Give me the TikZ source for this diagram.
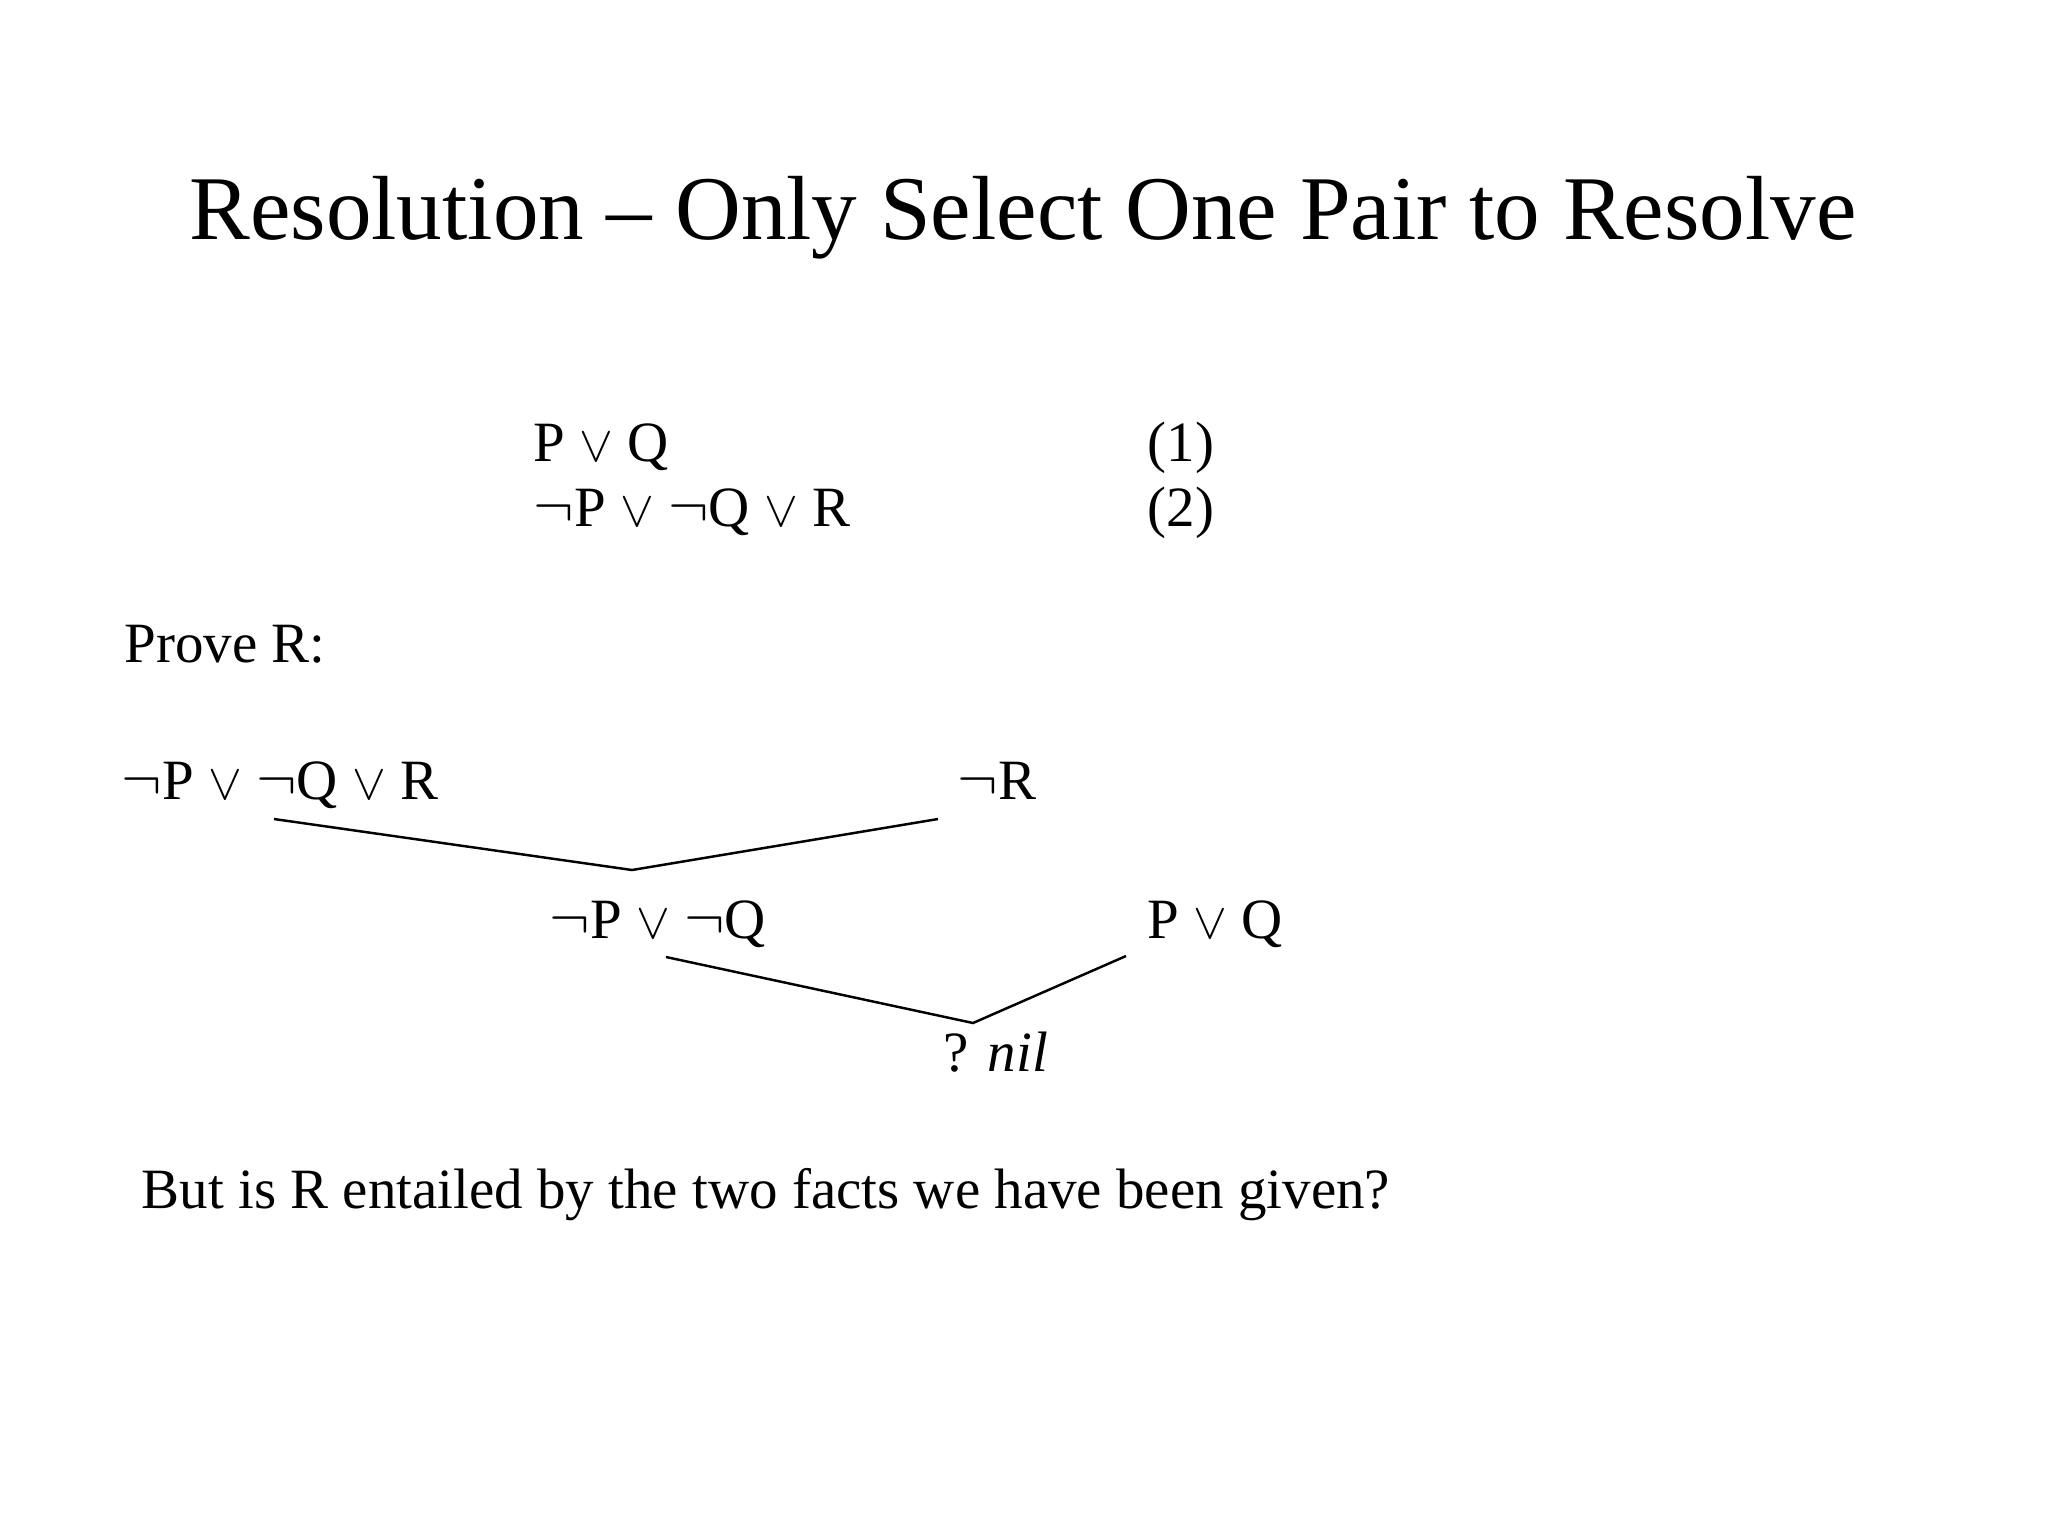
\documentclass[tikz,border=0pt]{standalone}
\usepackage{fontspec}
\setmainfont{Liberation Serif}
\newcommand{\myor}{{\fontsize{14}{16}\selectfont$\vee$}}
\newcommand{\mynot}{$\neg$}
\begin{document}
\begin{tikzpicture}[x=0.01cm,y=-0.01cm,
  txt/.style={anchor=base west,inner sep=0pt,text height=0.68em,text depth=0.12em,font=\fontsize{16.2}{19}\selectfont},
  ttl/.style={anchor=base,inner sep=0pt,font=\fontsize{25.9}{31}\selectfont},
  link/.style={line width=0.7pt}]
\useasboundingbox[fill=white] (0,0) rectangle (2048,1536);
\node[ttl] (title) at (1023,239) {Resolution -- Only Select One Pair to Resolve};
\node[txt] (f1) at (533,461) {P \myor{} Q};
\node[txt] (n1) at (1147,461) {(1)};
\node[txt] (f2) at (533,526) {\mynot P \myor{} \mynot Q \myor{} R};
\node[txt] (n2) at (1147,526) {(2)};
\node[txt] (prove) at (124,662) {Prove R:};
\node[txt] (c1) at (121,799) {\mynot P \myor{} \mynot Q \myor{} R};
\node[txt] (c2) at (957,799) {\mynot R};
\node[txt] (c3) at (549,938) {\mynot P \myor{} \mynot Q};
\node[txt] (c4) at (1147,938) {P \myor{} Q};
\node[txt] (c5) at (943,1071) {? \textit{nil}};
\node[txt] (q) at (141,1208) {But is R entailed by the two facts we have been given?};
\coordinate (a1) at (274,819);
\coordinate (a2) at (938,819);
\coordinate (j1) at (632,870);
\coordinate (b1) at (666,957);
\coordinate (b2) at (1126,956);
\coordinate (j2) at (973,1023);
\draw[link] (a1) -- (j1) -- (a2);
\draw[link] (b1) -- (j2) -- (b2);
\end{tikzpicture}
\end{document}
